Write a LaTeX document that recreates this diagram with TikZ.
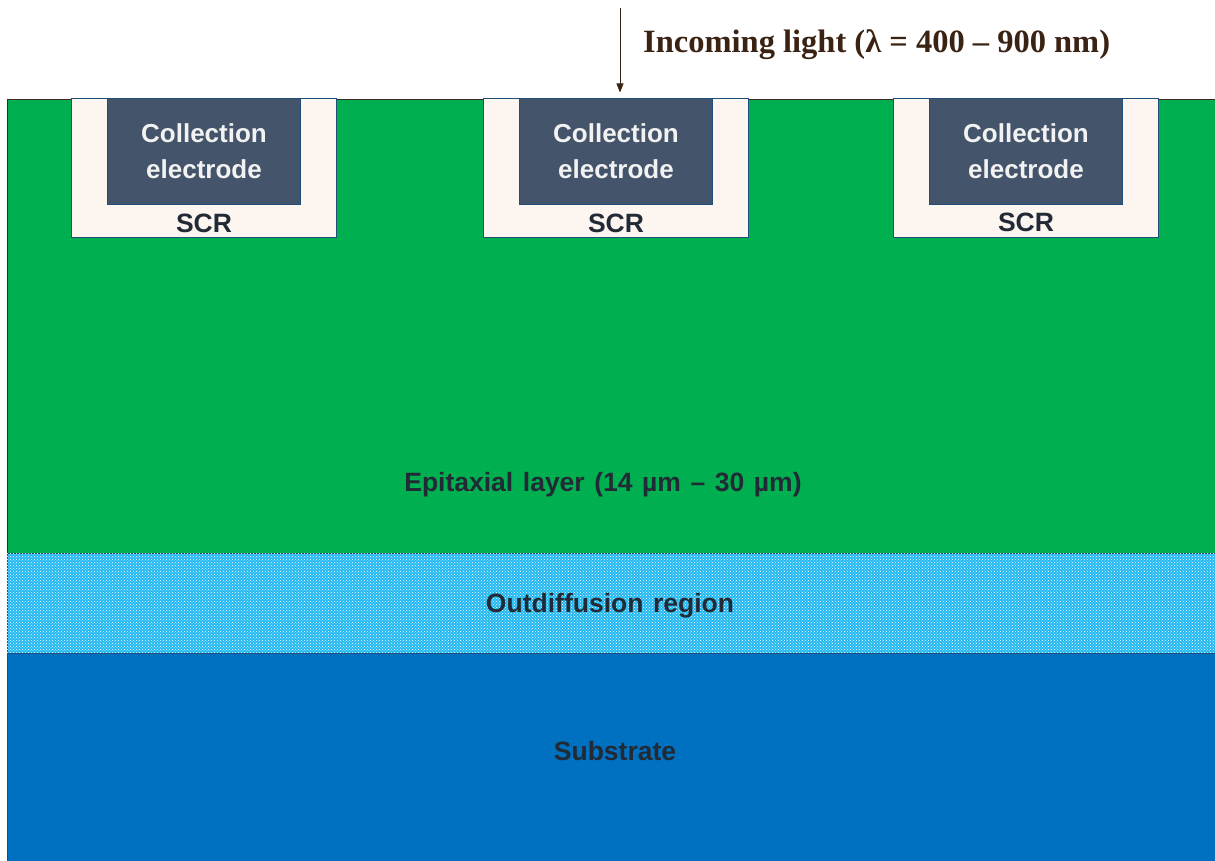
\documentclass[tikz,border=0pt]{standalone}
\usepackage{fontspec}
\setmainfont{Liberation Serif}
\setsansfont{Liberation Sans}
\newfontfamily\lblfont[WordSpace=1.3]{Liberation Sans}
\usetikzlibrary{arrows.meta, patterns, positioning}
\definecolor{epigreen}{HTML}{00B050}
\definecolor{outdbg}{HTML}{22B8F2}
\definecolor{subblue}{HTML}{0070C0}
\definecolor{elecbg}{HTML}{44546A}
\definecolor{electext}{HTML}{F2F2F2}
\definecolor{scrbg}{HTML}{FDF5F0}
\definecolor{scrborder}{HTML}{1F4E79}
\definecolor{layerline}{HTML}{3A2A1E}
\definecolor{labeltext}{HTML}{222A35}
\definecolor{lighttext}{HTML}{3B2314}
\tikzset{
  layer/.style={
    draw=layerline,
    line width=0.9pt,
    minimum width=1230pt,
    inner sep=0pt,
    outer sep=0pt
  },
  scrbox/.style={
    draw=scrborder,
    fill=scrbg,
    line width=0.9pt,
    minimum width=265pt,
    minimum height=139pt,
    inner sep=0pt,
    outer sep=0pt
  },
  elecbox/.style={
    draw=scrborder,
    fill=elecbg,
    line width=0.9pt,
    minimum width=193pt,
    minimum height=106pt,
    inner sep=0pt,
    outer sep=0pt,
    align=center,
    text=electext,
    font=\sffamily\bfseries\fontsize{26}{36}\selectfont
  },
  lbl/.style={
    text=labeltext,
    font=\lblfont\bfseries\fontsize{26.5}{30}\selectfont,
    inner sep=0pt
  },
  lightarrow/.style={
    -{Triangle[length=9pt, width=7pt]},
    line width=0.8pt,
    color=lighttext
  }
}
\begin{document}
\begin{tikzpicture}[x=1pt, y=-1pt]
  \useasboundingbox (0,0) rectangle (1215,861);

  % ==================== LAYERS ====================
  \node (epi) [layer, fill=epigreen, minimum height=454pt, anchor=north west] at (7,99) {};
  \node (outd) [layer, draw=scrborder, fill=outdbg, minimum height=100pt, below=0pt of epi] {};
  \fill [pattern=crosshatch dots, pattern color=white] (outd.south west) rectangle (outd.north east);
  \node (sub) [layer, draw=scrborder, fill=subblue, minimum height=220pt, below=0pt of outd] {};

  % ==================== PIXELS ====================
  \node (scr1) [scrbox, anchor=north] at (204,98.5) {};
  \node (scr2) [scrbox, anchor=north] at (616,98.5) {};
  \node (scr3) [scrbox, anchor=north] at (1026,98.5) {};

  \node (elec1) [elecbox, anchor=north] at (scr1.north) {Collection\\electrode};
  \node (elec2) [elecbox, anchor=north] at (scr2.north) {Collection\\electrode};
  \node (elec3) [elecbox, anchor=north] at (scr3.north) {Collection\\electrode};

  \node (scrlbl1) [lbl, above=5pt of scr1.south] {SCR};
  \node (scrlbl2) [lbl, above=5pt of scr2.south] {SCR};
  \node (scrlbl3) [lbl, above=6pt of scr3.south] {SCR};

  % Layer labels
  \node (epilbl) [lbl] at (603,485) {Epitaxial layer (14 µm – 30 µm)};
  \node (outdlbl) [lbl] at (610,606) {Outdiffusion region};
  \node (sublbl) [lbl] at (615,751) {Substrate};

  % ==================== LIGHT ====================
  \coordinate (lightsrc) at (620,8);
  \draw [lightarrow, shorten >=6pt] (lightsrc) -- (lightsrc |- elec2.north);
  \node (lightlbl) [anchor=west, text=lighttext, font=\bfseries\fontsize{32.5}{38}\selectfont, inner sep=0pt] at (643,45) {Incoming light (λ = 400 – 900 nm)};

\end{tikzpicture}
\end{document}
